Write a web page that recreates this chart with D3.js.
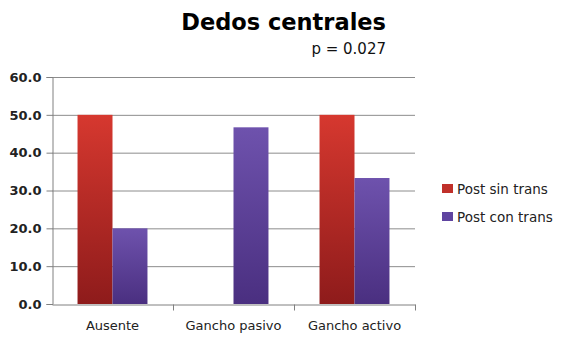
<!DOCTYPE html>
<html lang="es">
<head>
<meta charset="UTF-8">
<title>Dedos centrales</title>
<style>
  body { margin: 0; background: #fff; }
  text { font-family: "DejaVu Sans", Verdana, sans-serif; }
</style>
</head>
<body>
<script src="https://d3js.org/d3.v7.min.js"></script>
<script>
// data
const categories = ["Ausente", "Gancho pasivo", "Gancho activo"];
const seriesNames = ["Post sin trans", "Post con trans"];
const postSinTrans = [50.0, 0, 50.0];
const postConTrans = [20.0, 46.7, 33.3];
const yTicks = [0, 10, 20, 30, 40, 50, 60];

const width = 565, height = 340;
const plot = {left: 52, right: 415, top: 77, bottom: 304};

const svg = d3.select("body").append("svg")
    .attr("width", width)
    .attr("height", height);

// gradients for the bars
const defs = svg.append("defs");
const grads = [
    {id: "gRed", top: "#d6382f", bottom: "#8e1b1b"},
    {id: "gPurple", top: "#6e52ad", bottom: "#4a2f80"}
];
grads.forEach(function(g) {
    const lg = defs.append("linearGradient")
        .attr("id", g.id)
        .attr("x1", 0).attr("y1", 0).attr("x2", 0).attr("y2", 1);
    lg.append("stop").attr("offset", "0%").attr("stop-color", g.top);
    lg.append("stop").attr("offset", "100%").attr("stop-color", g.bottom);
});
const legendColors = ["#c0302a", "#5f44a0"];

const x = d3.scaleBand()
    .domain(categories)
    .range([plot.left, plot.right])
    .paddingInner(0)
    .paddingOuter(0);

const x1 = d3.scaleBand()
    .domain(d3.range(seriesNames.length))
    .range([0, x.bandwidth()])
    .paddingInner(0)
    .paddingOuter(0.73);

const y = d3.scaleLinear()
    .domain([0, 60])
    .range([plot.bottom, plot.top]);

// gridlines
svg.append("g")
    .selectAll("line")
    .data(yTicks.filter(d => d > 0))
    .enter().append("line")
    .attr("x1", plot.left).attr("x2", plot.right)
    .attr("y1", d => y(d) + 0.5).attr("y2", d => y(d) + 0.5)
    .attr("stroke", "#8c8c8c")
    .attr("stroke-width", 1);

// bars
const data = categories.map(function(c, i) {
    return {cat: c, vals: [postSinTrans[i], postConTrans[i]]};
});
const groups = svg.append("g").selectAll("g")
    .data(data)
    .enter().append("g")
    .attr("transform", d => "translate(" + x(d.cat) + ",0)");
groups.selectAll("rect")
    .data(d => d.vals.map((v, k) => ({k: k, v: v})))
    .enter().append("rect")
    .attr("x", d => x1(d.k))
    .attr("width", x1.bandwidth())
    .attr("y", d => y(d.v))
    .attr("height", d => y(0) - y(d.v))
    .attr("fill", d => "url(#" + grads[d.k].id + ")");

// y axis
const yAxis = d3.axisLeft(y)
    .tickValues(yTicks)
    .tickFormat(d3.format(".1f"))
    .tickSize(6)
    .tickPadding(5);
const gy = svg.append("g")
    .attr("transform", "translate(" + (plot.left + 0.5) + ",0)")
    .call(yAxis);
gy.select(".domain").attr("stroke", "#808080");
gy.selectAll(".tick line").attr("stroke", "#808080");
gy.selectAll(".tick text")
    .attr("fill", "#222")
    .style("font-size", "13px")
    .style("font-weight", "bold");

// x axis
const xAxis = d3.axisBottom(x).tickSize(0).tickPadding(16);
const gx = svg.append("g")
    .attr("transform", "translate(0," + (plot.bottom + 0.5) + ")")
    .call(xAxis);
gx.select(".domain").attr("stroke", "#808080");
gx.selectAll(".tick text")
    .attr("fill", "#222")
    .style("font-size", "13px");
// category boundary ticks
gx.append("g").selectAll("line")
    .data(categories.map(c => x(c) + x.bandwidth()))
    .enter().append("line")
    .attr("x1", d => d + 0.5).attr("x2", d => d + 0.5)
    .attr("y1", 0).attr("y2", 6)
    .attr("stroke", "#808080");

// title
svg.append("text")
    .attr("x", 386).attr("y", 30)
    .attr("text-anchor", "end")
    .style("font-size", "22.5px")
    .style("font-weight", "bold")
    .attr("fill", "#000")
    .text("Dedos centrales");
svg.append("text")
    .attr("x", 386).attr("y", 54)
    .attr("text-anchor", "end")
    .style("font-size", "15px")
    .attr("fill", "#111")
    .text("p = 0.027");

// legend
const legend = svg.append("g").selectAll("g")
    .data(seriesNames)
    .enter().append("g")
    .attr("transform", (d, i) => "translate(442," + (184 + i * 28) + ")");
legend.append("rect")
    .attr("width", 11).attr("height", 9)
    .attr("fill", (d, i) => legendColors[i]);
legend.append("text")
    .attr("x", 15).attr("y", 9.5)
    .style("font-size", "13.5px")
    .attr("fill", "#222")
    .text(d => d);
</script>
</body>
</html>
